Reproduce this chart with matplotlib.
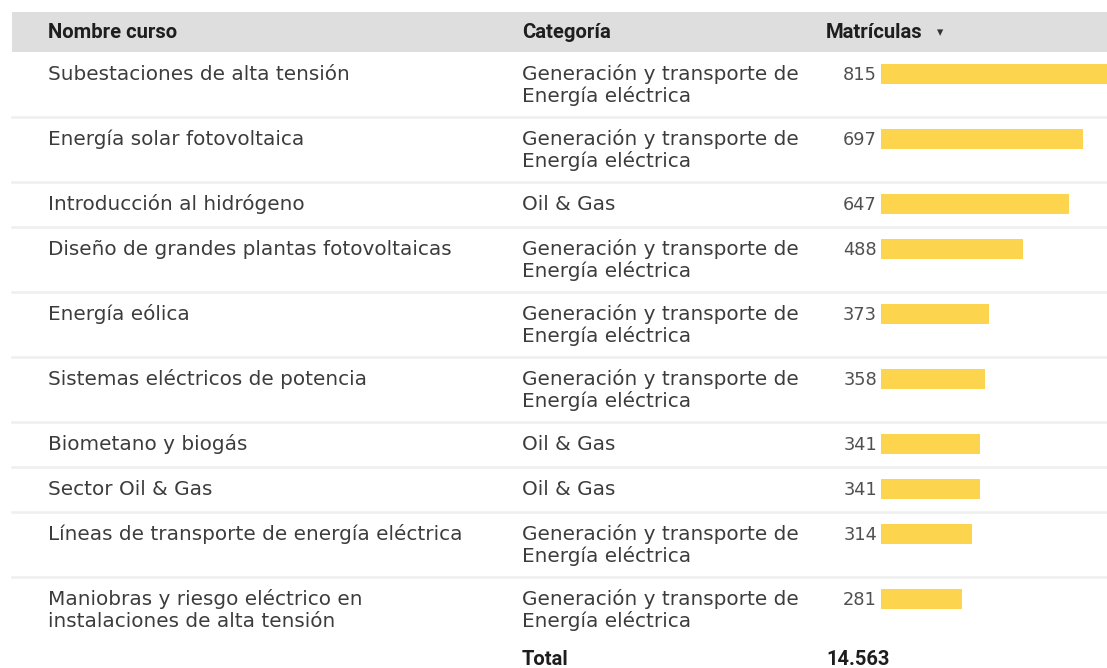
'''
Table of courses with enrolment bars
'''

import matplotlib.pyplot as plt

##################################

courses = ["Subestaciones de alta tensión",
           "Energía solar fotovoltaica",
           "Introducción al hidrógeno",
           "Diseño de grandes plantas fotovoltaicas",
           "Energía eólica",
           "Sistemas eléctricos de potencia",
           "Biometano y biogás",
           "Sector Oil & Gas",
           "Líneas de transporte de energía eléctrica",
           "Maniobras y riesgo eléctrico en\ninstalaciones de alta tensión"]
gen = "Generación y transporte de\nEnergía eléctrica"
categories = [gen, gen, "Oil & Gas", gen, gen, gen,
              "Oil & Gas", "Oil & Gas", gen, gen]
enrolments = [815, 697, 647, 488, 373, 358, 341, 341, 314, 281]
headers = ["Nombre curso", "Categoría", "Matrículas"]
total_label = "Total"
total_value = "14.563"

##################################

W, H = 1107, 668
fig = plt.figure(figsize=(W/100, H/100), dpi=100)
ax = fig.add_axes([0, 0, 1, 1])
ax.set_xlim(0, W)
ax.set_ylim(H, 0)
ax.axis('off')

text_col = '#3c3c3c'
body_font = ['DejaVu Sans']
body_size = 14.4
col_x = [48, 522, 877]
line_gap = 22


def put_lines(x, base, s, **kw):
    '''Draw each line of s with its own baseline'''
    for j, part in enumerate(s.split('\n')):
        ax.text(x, base + j*line_gap, part, va='baseline', **kw)


# header band
ax.add_patch(plt.Rectangle((12, 12), W-12, 40, color='#dedede', lw=0))
hfont = dict(family=['Roboto', 'DejaVu Sans'], weight='bold', size=14.6,
             color='#1e1e1e', va='baseline')
ax.text(col_x[0], 38, headers[0], **hfont)
ax.text(col_x[1], 38, headers[1], **hfont)
ax.text(826, 38, headers[2], **hfont)
ax.text(937, 33, '▾', family='DejaVu Sans', size=9, color='#333333', va='center')

# row layout
tops = []
y = 52
for c, k in zip(courses, categories):
    tops.append(y)
    two = ('\n' in c) or ('\n' in k)
    y += 65 if two else 45
end = y

# bar axes, same vertical pixel scale
bx0 = 881
bax = fig.add_axes([bx0/W, 0, (W-bx0)/W, 1])
bax.set_ylim(H, 0)
bax.set_xlim(0, (W-bx0)/0.29)
bax.axis('off')
bax.barh([t+22 for t in tops], enrolments, height=20, color='#fdd44e', left=0)

for i, (c, k, v) in enumerate(zip(courses, categories, enrolments)):
    t = tops[i]
    if i > 0:
        ax.plot([12, W], [t, t], color='#efefef', lw=1.8)
    put_lines(col_x[0], t+28, c, family=body_font, size=body_size, color=text_col)
    put_lines(col_x[1], t+28, k, family=body_font, size=body_size, color=text_col)
    ax.text(col_x[2], t+28, str(v), family=body_font, size=12.8, color='#505050',
            va='baseline', ha='right')

# total row
tfont = dict(family=['Roboto', 'DejaVu Sans'], weight='bold', size=14.5,
             color='#1e1e1e', va='baseline')
ax.text(col_x[1], end+23, total_label, **tfont)
ax.text(826, end+23, total_value, **tfont)

fig.savefig('out.png', dpi=100)
